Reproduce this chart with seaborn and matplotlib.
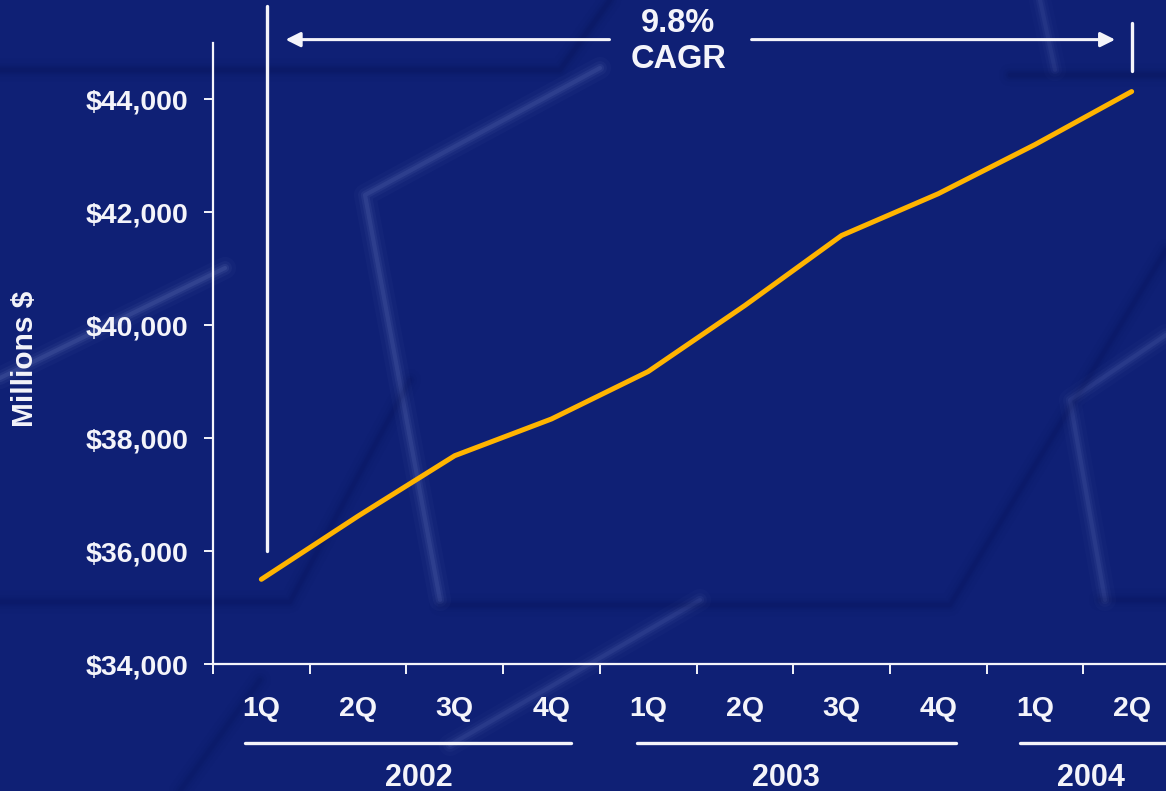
import numpy as np
import pandas as pd
import seaborn as sns
import matplotlib.pyplot as plt
from matplotlib.lines import Line2D

# Quarterly revenue, millions of dollars
quarters = ["1Q", "2Q", "3Q", "4Q", "1Q", "2Q", "3Q", "4Q", "1Q", "2Q"]
revenue = [35500, 36620, 37690, 38340, 39180, 40350, 41590, 42330, 43200, 44140]
years = ["2002", "2003", "2004"]
y_ticks = [34000, 36000, 38000, 40000, 42000, 44000]
y_label = "Millions $"
cagr_label = "9.8%\nCAGR"

BG = "#0f2075"
GOLD = "#ffb400"
WHITE = "#f4f4fa"
W, H = 1166, 791

sns.set_theme(style="white")
plt.rcParams["font.family"] = ["Liberation Sans", "DejaVu Sans"]
plt.rcParams["font.weight"] = "bold"

fig = plt.figure(figsize=(W / 100, H / 100), dpi=100, facecolor=BG)


def fp(x, y):
    return x / W, 1 - y / H


def streak(pts, color, strength=1.0):
    xs, ys = zip(*[fp(x, y) for x, y in pts])
    for lw, a in [(16, 0.025), (10, 0.04), (6, 0.06), (3, 0.08)]:
        fig.add_artist(Line2D(xs, ys, color=color, lw=lw, alpha=a * strength,
                              solid_capstyle="round", solid_joinstyle="round",
                              zorder=0))


# faint background texture
light = "#9fb0e8"
dark = "#040c45"
streak([(600, 68), (365, 195), (440, 600)], light, 1.2)
streak([(0, 378), (225, 268)], light, 1.3)
streak([(450, 745), (700, 600)], light, 1.0)
streak([(1166, 335), (1070, 400), (1105, 600)], light, 1.0)
streak([(1040, 0), (1055, 70)], light, 0.8)
streak([(0, 70), (560, 70), (610, 0)], dark, 1.2)
streak([(1010, 75), (1166, 75)], dark, 1.2)
streak([(0, 602), (290, 602), (410, 380)], dark, 1.0)
streak([(440, 605), (950, 605), (1166, 250)], dark, 1.0)
streak([(1100, 600), (1166, 600)], dark, 1.0)
streak([(180, 791), (260, 680)], dark, 0.9)

ax = fig.add_axes([213 / W, 1 - 664 / H, 1 - 213 / W, (664 - 43) / H])
ax.set_facecolor("none")

df = pd.DataFrame({"idx": np.arange(len(revenue)), "revenue": revenue})
sns.lineplot(data=df, x="idx", y="revenue", ax=ax, color=GOLD, lw=3.6,
             solid_capstyle="round", zorder=3)

n = len(revenue)
ax.set_xlim(-0.5, -0.5 + (W - 213) / 96.7)
ax.set_ylim(34000, 45000)

# y axis
ax.set_yticks(y_ticks)
ax.set_yticklabels([f"${v:,.0f}" for v in y_ticks])
ax.tick_params(axis="y", length=6.5, width=1.4, color=WHITE, direction="out",
               pad=11, labelsize=20.5, labelcolor=WHITE, left=True)

# x axis: ticks between quarters, labels centred on quarters
ax.set_xticks(np.arange(n) - 0.5)
ax.set_xticklabels([])
ax.set_xticks(np.arange(n), minor=True)
ax.set_xticklabels(quarters, minor=True)
ax.tick_params(axis="x", which="major", length=7, width=1.4, color=WHITE,
               direction="out", bottom=True)
ax.tick_params(axis="x", which="minor", length=0, pad=23, labelsize=20.5,
               labelcolor=WHITE)
for lab in ax.get_xticklabels(minor=True) + ax.get_yticklabels():
    lab.set_fontweight("bold")

ax.set_xlabel("")
ax.set_ylabel("")
for side in ["top", "right"]:
    ax.spines[side].set_visible(False)
for side in ["left", "bottom"]:
    ax.spines[side].set_color(WHITE)
    ax.spines[side].set_linewidth(1.6)

fig.text(25 / W, 1 - 359 / H, y_label, rotation=90, ha="center", va="center",
         color=WHITE, fontsize=21.5, fontweight="bold")

# year groups under the quarter labels
trans = ax.get_xaxis_transform()
year_spans = [(-0.17, 3.2), (3.88, 7.18), (7.85, 9.6)]
year_pos = [1.63, 5.43, 8.58]
for (a, b), xpos, yr in zip(year_spans, year_pos, years):
    ax.add_line(Line2D([a, b], [-0.127, -0.127], transform=trans, color=WHITE,
                       lw=2.4, clip_on=False))
    ax.text(xpos, -0.183, yr, transform=trans, ha="center", va="center",
            color=WHITE, fontsize=22, fontweight="bold", clip_on=False)

# growth annotation
ax.plot([0.06, 0.06], [36000, 45650], color=WHITE, lw=2.4, clip_on=False,
        zorder=4)
ax.plot([9.0, 9.0], [44510, 45360], color=WHITE, lw=2.4, clip_on=False,
        zorder=4)
arrow_y = 45060
ax.annotate("", xy=(0.25, arrow_y), xytext=(3.6, arrow_y),
            arrowprops=dict(arrowstyle="-|>", color=WHITE, lw=2.2,
                            mutation_scale=22, shrinkA=0, shrinkB=0),
            annotation_clip=False)
ax.annotate("", xy=(8.83, arrow_y), xytext=(5.07, arrow_y),
            arrowprops=dict(arrowstyle="-|>", color=WHITE, lw=2.2,
                            mutation_scale=22, shrinkA=0, shrinkB=0),
            annotation_clip=False)
ax.text(4.31, 45020, cagr_label, ha="center", va="center", color=WHITE,
        fontsize=23.5, fontweight="bold", linespacing=1.2, clip_on=False)

fig.savefig("out.png", dpi=100, facecolor=BG)
